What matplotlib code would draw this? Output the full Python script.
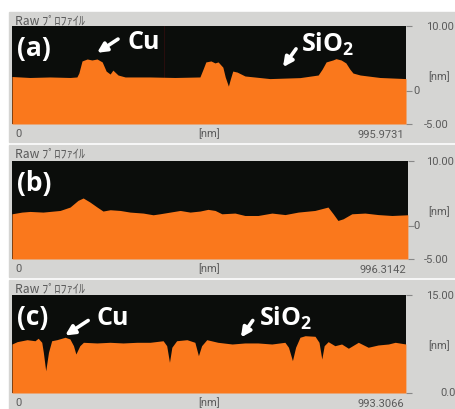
import matplotlib.pyplot as plt
from matplotlib.patches import Rectangle

plt.rcParams['mathtext.fontset'] = 'custom'
plt.rcParams['mathtext.rm'] = 'Open Sans'
plt.rcParams['mathtext.bf'] = 'Open Sans:bold'

# Line profiles: position along the scan [nm] and height [nm]
a_x = [0, 45, 96, 147, 164, 169, 177, 190, 202, 215, 228, 238, 248, 255, 268,
       286, 349, 412, 475, 483, 490, 503, 513, 521, 533, 539, 547, 552, 558, 569,
       589, 652, 728, 774, 784, 794, 811, 819, 832, 844, 854, 862, 880, 930, 996]
a_h = [2.27, 2.12, 2.2, 2.12, 2.2, 2.8, 4.65, 4.95, 4.8, 4.95, 4.5, 3.1, 2.65, 3.25, 2.5,
       2.2, 2.2, 2.12, 2.2, 3.4, 4.5, 4.65, 4.35, 4.5, 3.7, 2.2, 0.8, 1.9, 3.1, 2.95,
       2.35, 1.95, 2.1, 2.5, 3.4, 4.5, 4.8, 5.0, 4.8, 4.35, 3.4, 2.8, 2.5, 2.12, 1.95]

b_x = [0, 25, 45, 78, 121, 146, 166, 179, 196, 214, 229, 247, 272, 297, 330,
       355, 372, 398, 423, 448, 473, 493, 511, 528, 561, 586, 619, 654, 687, 720,
       762, 795, 808, 820, 833, 855, 888, 921, 956, 996]
b_h = [1.92, 2.18, 2.28, 2.18, 2.43, 2.95, 3.97, 4.34, 3.72, 2.95, 2.34, 2.54, 2.43, 2.18, 2.03,
       1.77, 1.92, 2.18, 2.43, 2.18, 2.34, 2.6, 2.43, 1.92, 2.03, 1.66, 1.66, 2.03, 1.8, 2.18,
       2.43, 2.95, 1.92, 0.9, 1.15, 1.92, 2.03, 1.8, 1.66, 1.77]

c_x = [0, 13, 38, 58, 66, 75, 79, 85, 92, 100, 113, 134, 146, 155, 161,
       171, 180, 214, 247, 280, 315, 348, 381, 390, 397, 403, 415, 441, 461, 470,
       478, 491, 519, 555, 587, 620, 655, 688, 697, 707, 715, 726, 739, 764, 774,
       781, 787, 797, 814, 831, 848, 873, 898, 923, 949, 966, 993]
c_h = [7.5, 7.86, 8.16, 8.0, 8.38, 7.76, 6.23, 3.4, 6.23, 8.0, 8.16, 8.53, 8.27, 7.24, 5.97,
       7.24, 7.76, 7.66, 7.76, 7.66, 7.76, 7.76, 8.0, 7.24, 4.7, 7.0, 8.0, 8.16, 7.76, 5.71,
       7.24, 8.16, 7.76, 7.5, 7.66, 7.66, 7.5, 7.76, 7.0, 4.95, 7.0, 8.53, 8.77, 8.68, 7.76,
       5.2, 7.24, 7.86, 7.24, 7.5, 6.85, 7.76, 7.0, 7.35, 7.5, 7.76, 7.5]

scan_lengths = [995.9731, 996.3142, 993.3066]
length_labels = ['995.9731', '996.3142', '993.3066']
y_ranges = [(-5, 10), (-5, 10), (0, 15)]
panel_tags = ['(a)', '(b)', '(c)']

W, H = 456, 410
GRAY = '#d5d5d3'
ORANGE = '#fa781c'
TXT = '#5a5a5a'


def fx(px):
    return px / W


def fy(py):
    return 1 - py / H


fig = plt.figure(figsize=(4.56, 4.10), dpi=100)
fig.patch.set_facecolor('white')

# panel frames (pixel boxes) and plot areas
boxes = [(9, 13, 456, 143), (9, 146, 456, 278), (9, 281, 456, 410)]
plots = [(12, 27, 406, 125), (12, 162, 408, 260), (12, 296, 406, 394)]
profiles = [(a_x, a_h), (b_x, b_h), (c_x, c_h)]

axes = []
for i in range(3):
    x0, y0, x1, y1 = boxes[i]
    fig.patches.append(Rectangle((fx(x0), fy(y1)), fx(x1 - x0), (y1 - y0) / H,
                                 transform=fig.transFigure, color=GRAY, zorder=-5))
    l, t, r, b = plots[i]
    ax = fig.add_axes([fx(l), fy(b), fx(r - l), (b - t) / H])
    ax.set_zorder(2)
    ax.set_facecolor('#0b0d0b')
    xs, hs = profiles[i]
    lo, hi = y_ranges[i]
    ax.fill_between(xs, lo, hs, color=ORANGE, lw=0, zorder=2)
    ax.set_xlim(0, scan_lengths[i])
    ax.set_ylim(lo, hi)
    ax.set_xticks([])
    ax.yaxis.tick_right()
    ax.set_yticks([lo, 0, hi] if lo < 0 else [lo, hi])
    ax.set_yticklabels([])
    ax.tick_params(axis='y', length=4, width=0.8, color='#888888')
    for s in ax.spines.values():
        s.set_visible(False)

    # header and bottom scale
    fig.text(fx(15), fy(y0 + 8), 'Raw ﾌﾟﾛﾌｧｲﾙ', family=['Noto Sans CJK JP', 'DejaVu Sans'],
             fontsize=8.8, color=TXT, va='center', ha='left')
    fig.text(fx(15), fy(b + 9), '0', family='Roboto', fontsize=8, color=TXT, va='center')
    fig.text(fx(198), fy(b + 9), '[nm]', family='Roboto', fontsize=8, color=TXT, va='center')
    fig.text(fx(r - 2), fy(b + 10), length_labels[i], family='Roboto', fontsize=8,
             color=TXT, va='center', ha='right')

    # right-hand scale
    fig.text(fx(426), fy(t), f'{hi:.2f}', family='Roboto', fontsize=8, color=TXT, va='center')
    fig.text(fx(428), fy(t + 50), '[nm]', family='Roboto', fontsize=8, color=TXT, va='center')
    if lo < 0:
        fig.text(fx(413), fy(t + 64), '0', family='Roboto', fontsize=8, color=TXT, va='center')
        fig.text(fx(424), fy(b), f'-{abs(lo):.2f}', family='Roboto', fontsize=8,
                 color=TXT, va='center')
    else:
        fig.text(fx(440), fy(b - 1), f'{lo:.1f}', family='Roboto', fontsize=8,
                 color=TXT, va='center')

    ax.text(0.012, 0.78, panel_tags[i], transform=ax.transAxes, family='Open Sans',
            fontweight='bold', fontsize=19, color='white', va='center', ha='left', zorder=5)
    axes.append(ax)

ax_a, ax_b, ax_c = axes

# faint cursor line in the first profile
ax_a.axvline(384, color='#2e0e0e', lw=0.6, zorder=1)

arrow = dict(arrowstyle='-|>', color='white', lw=2.6, mutation_scale=14,
             shrinkA=0, shrinkB=0)
label = dict(family='Open Sans', fontweight='bold', fontsize=18, color='white',
             va='center', ha='left', zorder=5)

ax_a.annotate('', xy=(215, 5.9), xytext=(268, 8.0), arrowprops=arrow, zorder=5)
ax_a.text(293, 7.6, 'Cu', **label)
ax_a.annotate('', xy=(685, 3.7), xytext=(718, 6.5), arrowprops=arrow, zorder=5)
ax_a.text(731, 7.4, r'SiO$_\mathbf{2}$', **label)

ax_c.annotate('', xy=(134, 8.8), xytext=(192, 11.1), arrowprops=arrow, zorder=5)
ax_c.text(214, 11.6, 'Cu', **label)
ax_c.annotate('', xy=(577, 8.5), xytext=(607, 11.1), arrowprops=arrow, zorder=5)
ax_c.text(623, 11.6, r'SiO$_\mathbf{2}$', **label)

fig.savefig('out.png', dpi=100)
